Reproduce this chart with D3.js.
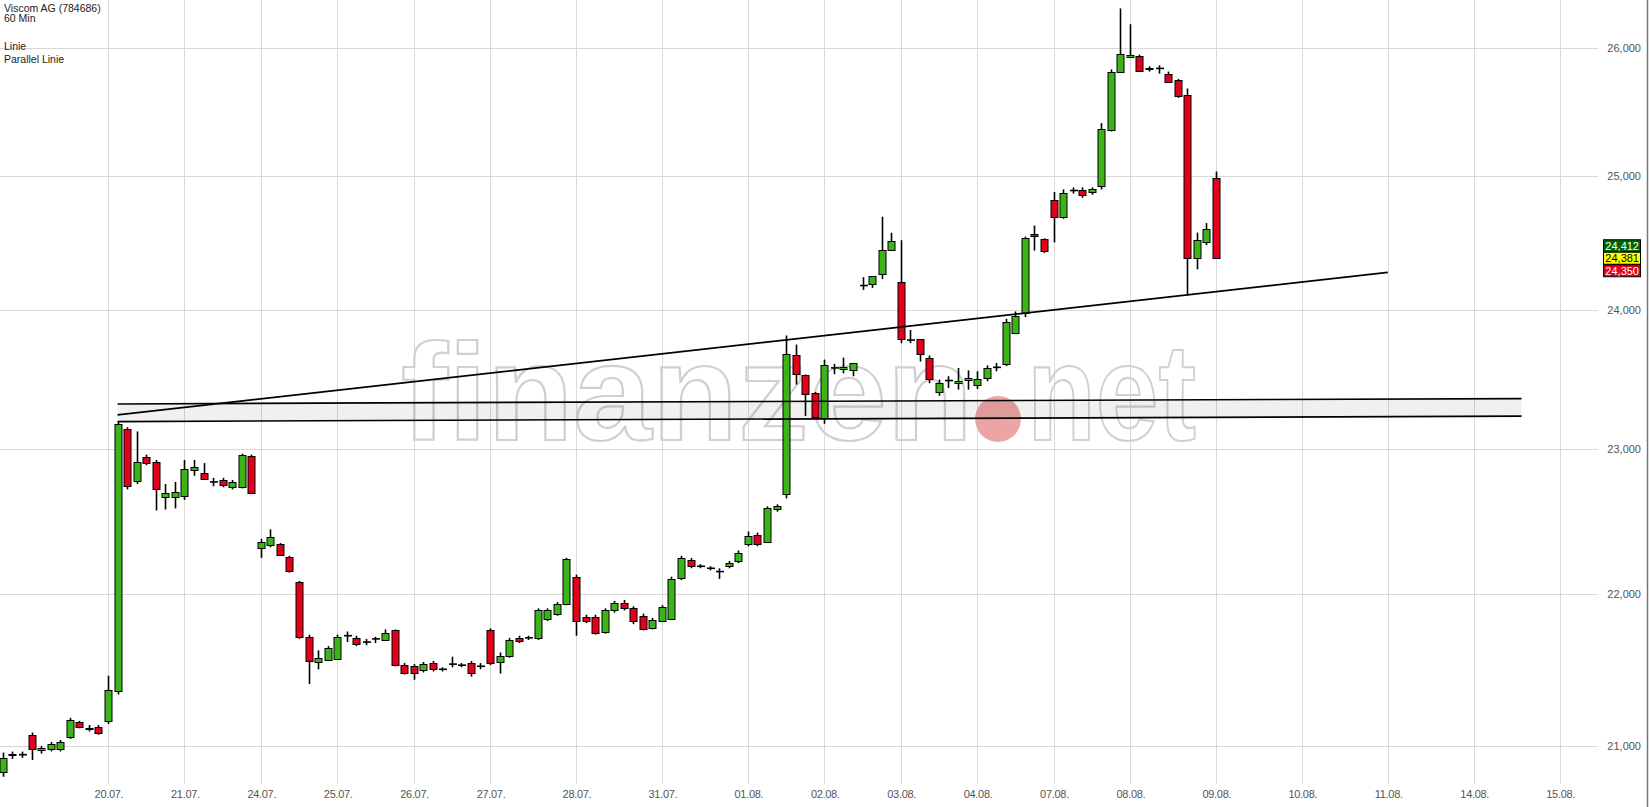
<!DOCTYPE html>
<html><head><meta charset="utf-8">
<script src="https://cdn.jsdelivr.net/npm/d3@7"></script>
<style>
html,body{margin:0;padding:0;background:#fff;overflow:hidden;}
svg{display:block;font-family:"Liberation Sans",Arial,sans-serif;}
</style></head><body>
<svg id="c" width="1650" height="807"></svg>
<script>
// ---------- data ----------
const titleLines = ["Viscom AG (784686)", "60 Min"];
const legendLines = ["Linie", "Parallel Linie"];
const firstIndex = -11; // candle index of the first visible bar (20.07. 09:00 = 0)
const opens = [20836,20943,20943,21072,20971,20978,20978,21059,21154,21106,21120,
21161,21353,23137,22774,22943,22906,22664,22664,22664,22847,22832,22767,22781,22730,22737,22950,
22309,22330,22338,22251,22080,21713,21546,21560,21567,21720,21706,21678,21699,21692,21755,21525,
21518,21491,21539,21498,21532,21525,21539,21518,21755,21546,21588,21706,21706,21699,21832,21867,21931,
22116,21846,21846,21741,21889,21938,21903,21853,21769,21818,21832,22109,22230,22187,22173,22151,22187,22223,
22338,22403,22352,22576,22681,23666,23528,23396,23218,23576,23569,23561,24178,24188,24262,24441,
24203,23778,23782,23651,23403,23485,23466,23487,23452,23502,23580,23604,23833,23972,24560,24525,
24820,24692,24892,24892,24876,24924,25362,25815,25932,25941,25840,25840,25799,25749,25633,24384,24502,24988];
const highs = [20957,20963,20963,21086,20998,21025,21038,21181,21161,21134,21134,
21456,23196,23152,23122,22958,22921,22752,22767,22921,22921,22899,22796,22796,22781,22965,22958,
22374,22439,22345,22258,22087,21727,21623,21651,21727,21748,21720,21699,21713,21762,21762,21539,
21532,21546,21553,21511,21581,21539,21553,21539,21769,21609,21706,21720,21720,21903,21903,21945,22244,
22130,21860,21860,21903,21952,21959,21917,21867,21839,21924,22116,22258,22244,22201,22187,22173,22223,22294,
22424,22417,22598,22612,23811,23745,23528,23403,23636,23605,23650,23612,24240,24247,24693,24572,
24516,23851,23782,23666,23492,23516,23576,23558,23552,23594,23612,23933,23987,24543,24626,24530,
24880,24900,24916,24916,24916,25411,25832,26319,26192,25949,25857,25865,25815,25757,25682,24573,24645,25037];
const lows = [20802,20916,20923,20909,20950,20964,20964,21045,21113,21093,21072,
21140,21332,22715,22752,22884,22569,22576,22583,22642,22810,22781,22737,22730,22715,22722,22686,
22244,22316,22258,22144,21699,21401,21498,21553,21560,21678,21651,21657,21671,21685,21518,21463,
21429,21477,21484,21484,21511,21511,21449,21498,21525,21470,21574,21671,21692,21692,21818,21853,21924,
21720,21804,21727,21734,21874,21889,21797,21755,21762,21811,21825,22094,22173,22173,22159,22101,22173,22208,
22323,22323,22345,22561,22653,23456,23232,23218,23176,23530,23537,23516,24146,24161,24227,24441,
23755,23755,23622,23466,23375,23431,23420,23420,23424,23480,23552,23590,23828,23945,24438,24420,
24500,24677,24868,24836,24860,24900,25346,25807,25924,25815,25815,25799,25724,25608,24103,24299,24479,24376];
const closes = [20923,20950,20943,20984,20984,21011,21025,21168,21120,21113,21079,
21360,23174,22737,22906,22899,22715,22693,22700,22855,22869,22788,22767,22745,22767,22958,22693,
22352,22388,22266,22159,21713,21553,21574,21637,21713,21720,21664,21678,21699,21741,21525,21470,
21470,21532,21498,21498,21532,21525,21470,21518,21539,21588,21692,21685,21706,21889,21889,21931,22237,
21818,21818,21741,21889,21938,21903,21818,21769,21825,21910,22101,22244,22187,22187,22173,22151,22208,22280,
22395,22338,22583,22598,23673,23528,23389,23225,23600,23576,23583,23612,24178,24247,24441,24507,
23782,23778,23673,23502,23466,23485,23480,23502,23494,23573,23580,23913,23957,24530,24543,24438,
24693,24876,24892,24852,24900,25362,25815,25957,25949,25824,25832,25840,25732,25625,24384,24518,24597,24381];

const dateLabels = ["20.07.","21.07.","24.07.","25.07.","26.07.","27.07.","28.07.","31.07.","01.08.","02.08.",
  "03.08.","04.08.","07.08.","08.08.","09.08.","10.08.","11.08.","14.08.","15.08."];
const dateIndex = [0,8,16,24,32,40,49,58,67,75,83,91,99,107,116,125,134,143,152];
const priceTicks = [21000,22000,23000,24000,25000,26000];

// drawn tools: [candle index, price]
const trendLine = [[1, 23239],[134, 24276]];
const channelUpper = [[1, 23317],[148, 23356]];
const channelLower = [[1, 23192],[148, 23231]];

const quoteLabels = ["24,412","24,381","24,350"];
const quoteFill = ["#006400","#ffff00","#e2001a"];
const quoteText = ["#ffffff","#000000","#ffffff"];
const lastPrice = 24381;

// ---------- chart ----------
const W = 1650, H = 807;
const plotR = 1598, plotB = 784;
const svg = d3.select("#c");
const x = d3.scaleLinear().domain([0, 152]).range([108, 1559.7]);
const y = d3.scaleLog().domain([20756, 26387]).range([plotB, 0]);

svg.append("defs").append("clipPath").attr("id","clip")
  .append("rect").attr("x",0).attr("y",0).attr("width",plotR).attr("height",plotB);

const grid = svg.append("g").attr("clip-path","url(#clip)");
grid.selectAll("line.h").data(priceTicks).join("line")
  .attr("x1",0).attr("x2",plotR)
  .attr("y1",d=>Math.round(y(d))+0.5).attr("y2",d=>Math.round(y(d))+0.5)
  .attr("stroke","#d9d9d9").attr("stroke-width",1);
grid.selectAll("line.v").data(dateIndex).join("line")
  .attr("x1",d=>Math.round(x(d))+0.5).attr("x2",d=>Math.round(x(d))+0.5)
  .attr("y1",0).attr("y2",plotB)
  .attr("stroke","#d9d9d9").attr("stroke-width",1);

// watermark
const wm = svg.append("g");
wm.append("text").text("finanzen").attr("x",401).attr("y",440)
  .attr("font-size",138).attr("font-weight","bold").attr("textLength",572).attr("lengthAdjust","spacingAndGlyphs")
  .attr("fill","none").attr("stroke","#d0d0d0").attr("stroke-width",2.2);
wm.append("text").text("net").attr("x",1027).attr("y",440)
  .attr("font-size",138).attr("font-weight","bold").attr("textLength",169).attr("lengthAdjust","spacingAndGlyphs")
  .attr("fill","none").attr("stroke","#d0d0d0").attr("stroke-width",2.2);
wm.append("circle").attr("cx",998).attr("cy",419).attr("r",23).attr("fill","#eda4a4");

// channel band
const plot = svg.append("g").attr("clip-path","url(#clip)");
const band = channelUpper.concat(channelLower.slice().reverse());
plot.append("path")
  .attr("d", d3.line().x(d=>x(d[0])).y(d=>y(d[1]))(band) + "Z")
  .attr("fill","rgba(0,0,0,0.06)");

// candles
const candles = opens.map((o,i)=>({i:i+firstIndex,o,h:highs[i],l:lows[i],c:closes[i]}));
const cg = plot.append("g");
cg.selectAll("line.w").data(candles).join("line")
  .attr("x1",d=>Math.round(x(d.i))+0.5).attr("x2",d=>Math.round(x(d.i))+0.5)
  .attr("y1",d=>y(d.h)).attr("y2",d=>y(d.l))
  .attr("stroke","#000").attr("stroke-width",1.6);
cg.selectAll("rect").data(candles.filter(d=>d.o!==d.c)).join("rect")
  .attr("x",d=>Math.round(x(d.i))-3)
  .attr("y",d=>Math.round(y(Math.max(d.o,d.c)))+0.5)
  .attr("width",7)
  .attr("height",d=>Math.max(1,Math.round(Math.abs(y(d.o)-y(d.c)))))
  .attr("fill",d=>d.c>d.o?"#3ab416":"#e2001a")
  .attr("stroke","#000").attr("stroke-width",1);
cg.selectAll("line.d").data(candles.filter(d=>d.o===d.c)).join("line")
  .attr("x1",d=>Math.round(x(d.i))-3).attr("x2",d=>Math.round(x(d.i))+5)
  .attr("y1",d=>y(d.o)).attr("y2",d=>y(d.o))
  .attr("stroke","#000").attr("stroke-width",1.6);

// drawn lines
const ln = d3.line().x(d=>x(d[0])).y(d=>y(d[1]));
[trendLine, channelUpper, channelLower].forEach(p=>{
  plot.append("path").attr("d",ln(p)).attr("fill","none")
    .attr("stroke","#000").attr("stroke-width",1.7);
});

// right axis labels
const fmt = d3.format(",.0f");
svg.selectAll("text.ya").data(priceTicks).join("text")
  .attr("x",1641).attr("y",d=>y(d)+4).attr("text-anchor","end")
  .attr("font-size",11).attr("fill","#555").text(d=>fmt(d));

// bottom axis labels
svg.selectAll("text.xa").data(dateIndex).join("text")
  .attr("x",d=>x(d)+1).attr("y",798).attr("text-anchor","middle")
  .attr("font-size",11).attr("fill","#555").attr("letter-spacing",-0.3)
  .text((d,i)=>dateLabels[i]);

// quote boxes
const qy = y(lastPrice);
const qg = svg.append("g");
quoteLabels.forEach((t,k)=>{
  const top = qy - 6 + (k-1)*12.5;
  qg.append("rect").attr("x",1603.5).attr("y",top).attr("width",37).attr("height",12)
    .attr("fill",quoteFill[k]).attr("stroke","#000").attr("stroke-width",1);
  qg.append("text").attr("x",1639).attr("y",top+10).attr("text-anchor","end")
    .attr("font-size",11).attr("fill",quoteText[k]).text(t);
});

// titles
titleLines.forEach((t,k)=>svg.append("text").attr("x",4).attr("y",12+k*9.5)
  .attr("font-size",10.5).attr("fill","#222").text(t));
legendLines.forEach((t,k)=>svg.append("text").attr("x",4).attr("y",50+k*13)
  .attr("font-size",10.5).attr("fill","#222").text(t));

// frame
svg.append("line").attr("x1",1647.5).attr("x2",1647.5).attr("y1",0).attr("y2",H)
  .attr("stroke","#777").attr("stroke-width",1.5);
</script>
</body></html>
